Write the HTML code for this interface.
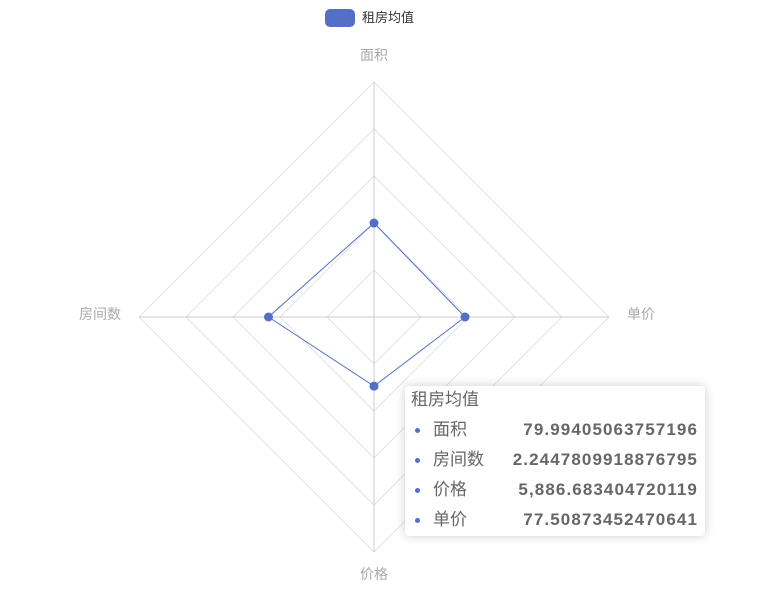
<!DOCTYPE html>
<html><head><meta charset="utf-8"><style>
body{margin:0;width:760px;height:604px;background:#fff;position:relative;overflow:hidden;font-family:"Liberation Sans","Noto Sans CJK SC",sans-serif}
#tip{position:absolute;left:405px;top:386px;width:300px;height:150px;background:#fff;border-radius:4px;box-shadow:0 0 10px rgba(0,0,0,0.2);color:#666;font-size:17px}
.row{position:absolute;left:0;width:300px;height:24px;line-height:24px}
.dot{position:absolute;left:10px;top:10px;width:5px;height:5px;border-radius:50%;background:#5470c6}
.lab{position:absolute;left:28px}
.val{position:absolute;right:7px;font-weight:bold;letter-spacing:1.1px}
</style></head><body>
<svg id="chart" width="760" height="604" style="position:absolute;left:0;top:0"></svg>
<div id="tip">
<div style="position:absolute;left:6px;top:2px;line-height:24px">租房均值</div>
<div class="row" style="top:32px"><span class="dot"></span><span class="lab">面积</span><span class="val">79.99405063757196</span></div>
<div class="row" style="top:62px"><span class="dot"></span><span class="lab">房间数</span><span class="val">2.2447809918876795</span></div>
<div class="row" style="top:92px"><span class="dot"></span><span class="lab">价格</span><span class="val">5,886.683404720119</span></div>
<div class="row" style="top:122px"><span class="dot"></span><span class="lab">单价</span><span class="val">77.50873452470641</span></div>
</div>
<script>
const indicators=["面积","单价","价格","房间数"];
const maxes=[200,200,20000,5];
const values=[79.99405063757196,77.50873452470641,5886.683404720119,2.2447809918876795];
const svg=document.getElementById('chart');const NS='http://www.w3.org/2000/svg';
const cx=374,cy=317,R=235;
const angles=[-Math.PI/2,0,Math.PI/2,Math.PI];
function pt(i,r){return [cx+r*Math.cos(angles[i]),cy+r*Math.sin(angles[i])];}
function mk(t,a){const e=document.createElementNS(NS,t);for(const k in a)e.setAttribute(k,a[k]);svg.appendChild(e);return e;}
for(let l=1;l<=5;l++){const r=R*l/5;
const p=mk('polygon',{points:[0,1,2,3].map(i=>pt(i,r).join(',')).join(' '),fill:'none',stroke:'#e0e3ec','stroke-width':1});

}
indicators.forEach((n,i)=>{const e=pt(i,R);
const ln=mk('line',{x1:cx,y1:cy,x2:e[0],y2:e[1],stroke:'#ccc','stroke-width':1});


const lp=pt(i,R+18);let anchor='middle',dy=2;
if(i===1)anchor='start';if(i===3)anchor='end';if(i===0)dy=-4;if(i===2)dy=9;
const t=mk('text',{x:lp[0],y:lp[1]+dy,'text-anchor':anchor,'font-size':14,fill:'#aaa'});t.textContent=n;

});
const pts=values.map((v,i)=>pt(i,R*v/maxes[i]));
const poly=mk('polygon',{points:pts.map(p=>p.join(',')).join(' '),fill:'none',stroke:'#5470c6','stroke-width':1});


pts.forEach((p,i)=>{const c=mk('circle',{cx:p[0],cy:p[1],r:4.5,fill:'#5470c6'});

});
const lr=mk('rect',{x:325,y:9,width:30,height:18,rx:5,fill:'#5470c6'});


const lt=mk('text',{x:362,y:22,'font-size':13,fill:'#333'});lt.textContent='租房均值';


</script>
</body></html>
